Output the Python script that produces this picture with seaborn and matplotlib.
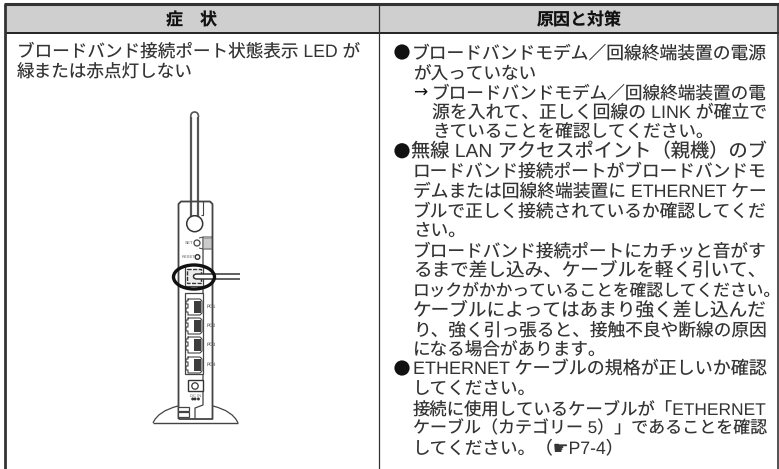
import matplotlib
matplotlib.use("Agg")
import matplotlib.pyplot as plt
import pandas as pd
import seaborn as sns
from matplotlib.patches import Circle, Ellipse, PathPatch, Rectangle
from matplotlib.path import Path

W, H = 779, 469
header_labels = ["症\u3000状", "原因と対策"]
left_lines = ["ブロードバンド接続ポート状態表示 LED が", "緑または赤点灯しない"]
# text, x start, font size in pixels (None: fit to the right margin, 0: normal size)
right_lines = [
    ("ブロードバンドモデム／回線終端装置の電源", 412, None),
    ("が入っていない", 413, 0),
    ("ブロードバンドモデム／回線終端装置の電", 432, None),
    ("源を入れて、正しく回線の LINK が確立で", 432, None),
    ("きていることを確認してください。", 432, 0),
    ("無線 LAN アクセスポイント（親機）のブ", 411, None),
    ("ロードバンド接続ポートがブロードバンドモ", 413, None),
    ("デムまたは回線終端装置に ETHERNET ケー", 413, None),
    ("ブルで正しく接続されているか確認してくだ", 413, None),
    ("さい。", 413, 0),
    ("ブロードバンド接続ポートにカチッと音がす", 413, None),
    ("るまで差し込み、ケーブルを軽く引いて、", 413, 18.6),
    ("ロックがかかっていることを確認してください。", 413, 16.75),
    ("ケーブルによってはあまり強く差し込んだ", 413, None),
    ("り、強く引っ張ると、接触不良や断線の原因", 413, None),
    ("になる場合があります。", 413, 0),
    ("ETHERNET ケーブルの規格が正しいか確認", 413, None),
    ("してください。", 413, 0),
    ("接続に使用しているケーブルが「ETHERNET", 413, None),
    ("ケーブル（カテゴリー 5）」であることを確認", 413, None),
    ("してください。（☛P7-4）", 413, 0),
]
bullet_rows = [0, 5, 16]
arrow_row = 2
port_labels = ["PC1", "PC2", "PC3", "PC4"]
port_centres = [307, 326, 345, 365]

sns.set_theme(style="white")
FONT = ["Liberation Sans", "Noto Sans CJK JP", "DejaVu Sans"]
plt.rcParams["font.family"] = FONT
plt.rcParams["text.hinting"] = "no_hinting"
INK = "#343434"
PX = 0.72  # points per pixel at 100 dpi

fig = plt.figure(figsize=(W / 100, H / 100), dpi=100)
ax = fig.add_axes([0, 0, 1, 1])
ax.set_xlim(0, W)
ax.set_ylim(H, 0)
ax.axis("off")


def poly(points, lw=1.0, color=INK):
    df = pd.DataFrame(points, columns=["x", "y"])
    sns.lineplot(data=df, x="x", y="y", sort=False, estimator=None, errorbar=None,
                 lw=lw, color=color, ax=ax, legend=False, solid_capstyle="butt")


# table frame
ax.add_patch(Rectangle((5, 4), 774, 29, fc="#cfcfcf", ec="none"))
poly([(4, 4.5), (779, 4.5)], 2.2, "#333333")
poly([(5, 33), (779, 33)], 1.4, "#222222")
poly([(5.5, 4), (5.5, 469)], 2.0, "#333333")
poly([(379, 4), (379, 469)], 0.9, "#333333")
poly([(778.5, 4), (778.5, 469)], 1.2, "#333333")

ax.text(192, 25, header_labels[0], ha="center", va="baseline", fontsize=17 * PX,
        fontweight="bold", color="#111111", family=["Noto Sans CJK JP"])
ax.text(579, 25, header_labels[1], ha="center", va="baseline", fontsize=17 * PX,
        fontweight="bold", color="#111111", family=["Noto Sans CJK JP"])

fig.canvas.draw()
renderer = fig.canvas.get_renderer()
BASE = 17.6 * PX
RIGHT = 767


def line(text, x, y, size=0):
    t = ax.text(x, y, text, ha="left", va="baseline", fontsize=BASE, color=INK)
    if size is None:
        w = t.get_window_extent(renderer).width
        t.set_fontsize(BASE * (RIGHT - x) / w)
    elif size:
        t.set_fontsize(size * PX)
    return t


for i, s in enumerate(left_lines):
    line(s, 17, 56 + 21 * i)

for i, (s, x, size) in enumerate(right_lines):
    line(s, x, 58.5 + 19.75 * i, size)

for i in bullet_rows:
    ax.add_patch(Circle((402, 52 + 19.75 * i), 7.6, fc="#111111", ec="none"))
ax.text(413, 58.5 + 19.75 * arrow_row, "→", ha="left", va="baseline", fontsize=17 * PX,
        color="#111111", family=["DejaVu Sans"])

# ---------- router illustration ----------
G = "#444444"
# antenna
poly([(190.7, 217), (190.7, 117)], 1.6, "#555555")
poly([(198.5, 217), (198.5, 117)], 1.6, "#555555")
ax.add_patch(PathPatch(Path([(190.7, 117), (190.7, 112), (194.6, 112), (198.5, 112), (198.5, 117)],
                            [Path.MOVETO, Path.CURVE3, Path.CURVE3, Path.CURVE3, Path.CURVE3]),
                       fc="none", ec="#555555", lw=1.2))
# body
poly([(178.5, 419), (178.5, 204), (181, 201.5), (210, 201.5), (212.5, 204), (212.5, 419), (178.5, 419)], 1.3, G)
poly([(203, 201.5), (203, 215), (201, 215)], 0.8, G)
poly([(203, 237), (203, 405), (195, 408), (195, 419)], 0.9, G)
ax.add_patch(Circle((194.7, 223.7), 8, fc="white", ec=INK, lw=1.1, zorder=3))
# set / reset
ax.text(189.5, 243, "SET", ha="center", va="center", fontsize=3.2, color="#555555")
ax.add_patch(Circle((197, 243), 3, fc="white", ec=G, lw=0.9, zorder=3))
poly([(199, 238), (203, 237), (212, 237), (212, 249), (203, 249), (199, 248)], 0.7, G)
ax.add_patch(Rectangle((203, 238.5), 8.5, 9.5, fc="#cccccc", ec="#888888", lw=0.5, zorder=3))
ax.text(189, 257, "RESET", ha="center", va="center", fontsize=3.0, color="#555555")
ax.add_patch(Circle((197.5, 257), 2.3, fc="white", ec=INK, lw=1.0, zorder=3))
# broadband port and cable
ax.add_patch(Rectangle((185.5, 265.5), 17.5, 20.5, fc="white", ec=G, lw=0.9, zorder=3))
ax.add_patch(Rectangle((187.5, 269), 13.5, 14, fc="#ececec", ec=INK, lw=1.0, ls=(0, (3, 1)), zorder=3))
ax.add_patch(PathPatch(Path([(240, 274), (197, 274), (193.5, 274), (193.5, 276.5), (193.5, 279), (197, 279), (240, 279)],
                            [Path.MOVETO, Path.LINETO, Path.CURVE3, Path.CURVE3, Path.CURVE3, Path.CURVE3, Path.LINETO]),
                       fc="white", ec=INK, lw=1.1, zorder=4))
ax.add_patch(Ellipse((194, 277), 41, 24, fc="none", ec="#111111", lw=2.4, zorder=5))
# LAN ports
ax.add_patch(Rectangle((185, 293), 18, 81, fc="white", ec=G, lw=0.9, zorder=3))
for lab, yc in zip(port_labels, port_centres):
    jag = [(188, yc - 8), (200, yc - 8), (202, yc - 6), (202, yc + 6), (200, yc + 8), (188, yc + 8),
           (188, yc + 5), (186, yc + 5), (186, yc + 1), (188, yc + 1), (188, yc - 3), (186, yc - 3),
           (186, yc - 6), (188, yc - 6), (188, yc - 8)]
    xs, ys = zip(*jag)
    ax.plot(xs, ys, color=G, lw=0.8, zorder=4)
    ax.add_patch(Rectangle((194, yc - 6), 7, 12, fc="#3c3c3c", ec="none", zorder=4))
    ax.text(207, yc, lab, ha="left", va="center", fontsize=3.4, color="#777777", fontweight="bold")
# power
ax.add_patch(Rectangle((188.5, 380), 14.5, 11, fc="white", ec=INK, lw=1.0, zorder=3))
ax.add_patch(Circle((195, 386), 3.2, fc="white", ec=INK, lw=0.9, zorder=4))
ax.text(196, 395.5, "DC IN", ha="center", va="center", fontsize=3.0, color="#666666")
ax.text(196, 399.5, "●●●", ha="center", va="center", fontsize=2.8, color="#333333", family=["DejaVu Sans"])
# stand
ax.add_patch(PathPatch(Path([(178, 406), (158, 411), (153, 423)], [Path.MOVETO, Path.CURVE3, Path.CURVE3]),
                       fc="none", ec=G, lw=0.9))
ax.add_patch(PathPatch(Path([(213, 406), (233, 411), (238, 423)], [Path.MOVETO, Path.CURVE3, Path.CURVE3]),
                       fc="none", ec=G, lw=0.9))
poly([(153, 423.5), (238, 423.5)], 1.0, G)
ax.add_patch(Rectangle((178.5, 407), 10.5, 4.2, fc="white", ec=G, lw=0.9, zorder=3))
ax.add_patch(Rectangle((178.5, 412.5), 10.5, 4.5, fc="white", ec=G, lw=0.9, zorder=3))

ax.set_xlim(0, W)
ax.set_ylim(H, 0)
ax.set_xlabel("")
ax.set_ylabel("")
fig.savefig("out.png", dpi=100)
